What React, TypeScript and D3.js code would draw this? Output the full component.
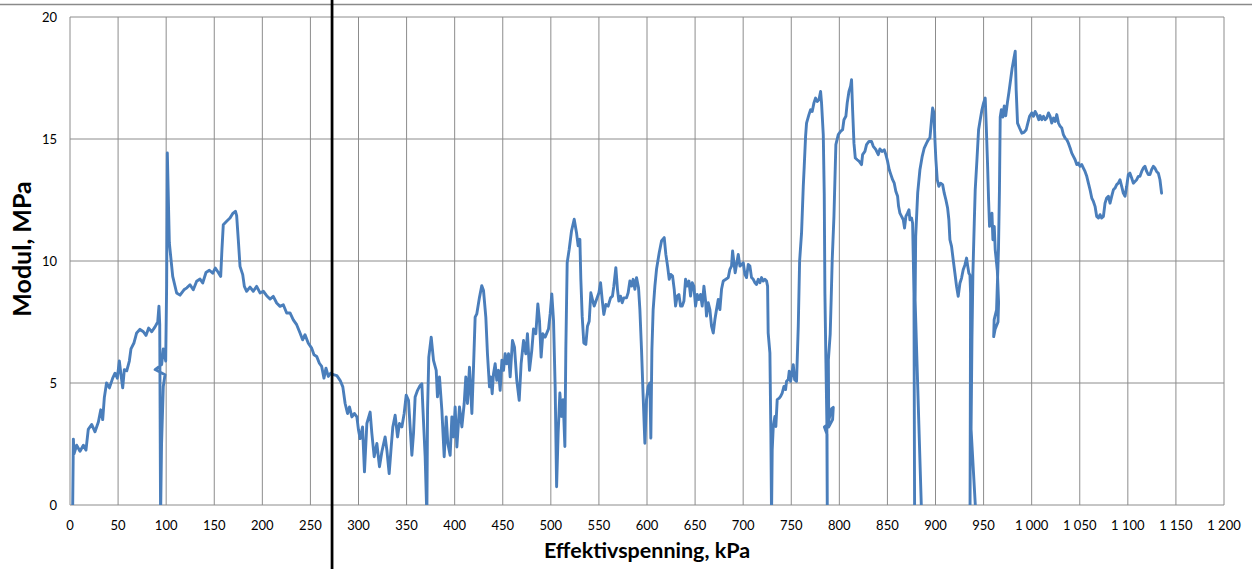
import React from "react";
import * as d3 from "d3";

// ---- Data: effective stress (kPa) vs. modulus (MPa) ----
const segA: [number, number][] = [
  [2.8,0],[3.5,2.7],[4.2,2.1],[6.9,2.45],[10.4,2.2],[13.9,2.45],[16.6,2.25],[19,3.1],[22.5,3.3],[26,3.0],[29.5,3.4],[32,3.9],[34,3.5],[35.7,4.4],[38,5.0],[41,4.8],[44.4,5.2],[46.8,5.4],[49.2,5.2],[51.3,5.9],[53,5.35],[54.8,4.8],[56.5,5.55],[59,5.5],[61.7,5.9],[63.4,6.4],[66.6,6.65],[69.3,7.05],[72.8,7.2],[76.3,7.1],[79,6.95],[81.8,7.25],[85,7.1],[88.4,7.3],[91.2,7.5],[92.5,8.15],[93.3,7.4],[94.2,-0.5],[95.2,2.5],[97,4.86],[98.8,5.34],[88.5,5.55],[95.3,5.75],[97,6.4],[99.5,5.9],[100.5,9],[101.2,14.43],
];
const segB: [number, number][] = [
  [103.3,10.74],[106.8,9.37],[110.9,8.69],[114.4,8.6],[118.5,8.82],[121.5,8.9],[124.8,9.03],[128.2,8.82],[131.7,9.17],[135.2,9.26],[138,9.1],[141.4,9.53],[144.9,9.62],[148.4,9.5],[151.1,9.71],[153.9,9.55],[156.7,9.37],[158,10.47],[159.4,11.49],[162.9,11.63],[166.4,11.76],[169.1,11.94],[172,12.04],[173.3,11.86],[175,10.88],[176.8,9.78],[179.6,9.44],[181.3,8.96],[183.7,8.76],[187.2,8.93],[190.6,8.76],[194.1,8.96],[197.6,8.69],[201,8.76],[204.5,8.58],[208,8.44],[211.4,8.55],[214.9,8.28],[218.4,8.14],[221.8,8.21],[225.3,7.87],[228.8,7.87],[232.2,7.59],[235.7,7.39],[239.2,7.05],[241.9,6.77],[244.4,6.98],[247.8,6.63],[251.3,6.43],[253.7,6.16],[256.5,6.09],[259.3,5.81],[261.7,5.68],[264.1,5.2],[266.2,5.61],[268.6,5.27],[271.1,5.4],[273.8,5.34],
];
const segC: [number, number][] = [
  [277.5,5.3],[281,5.1],[283.7,4.84],[286.1,4.16],[288.6,3.75],[290.6,4.02],[293.1,3.61],[295.8,3.75],[298.3,3.61],[300,3.07],[301.7,2.72],[304.2,3.2],[306.2,1.36],[308.7,3.34],[312.1,3.81],[313.9,2.93],[316.3,1.98],[319.1,2.52],[321.8,1.57],[324.3,2.18],[327.7,2.79],[329.5,2.25],[331.9,1.29],[334,2.38],[335.7,3.2],[338.1,3.68],[340.6,2.79],[342.6,3.34],[345.1,3.2],[347.5,3.75],[349.6,4.5],[352,4.29],[353.7,3.2],[355.5,2.04],[357.2,2.93],[358.9,4.43],[361.4,4.7],[364.1,4.9],[365.9,4.97],[366.9,4.02],[369.3,1.98],[371.1,-0.5],[371.8,3.88],[373.1,6.06],[375.6,6.88],[378,5.93],[380.8,5.52],[382.1,4.43],[384.2,5.25],[386.7,3.88],[389.1,1.98],[391.2,3.61],[392.9,2.52],[395.3,2.04],[397.1,3.61],[398.8,2.79],[400.5,4.02],[402.3,2.38],[405,4.02],[407.5,3.2],[409.9,4.16],[411.6,5.25],[413.3,4.16],[415.4,5.65],[417.9,3.75],[419.6,5.65],[421.3,7.7],[423,7.83],[425.8,8.51],[428.2,8.99],[430,8.79],
];
const segD: [number, number][] = [
  [432.4,7.7],[434.1,6.2],[436.2,4.84],[437.6,5.25],[439,4.56],[440.4,5.38],[442.1,5.79],[443.8,5.11],[445.6,5.52],[447.3,4.7],[449.1,5.93],[450.8,5.52],[452.5,6.2],[454.2,5.79],[456,6.2],[457.7,5.25],[460.1,6.74],[462.2,6.47],[464.6,5.11],[467.1,4.29],[469.1,5.79],[471.6,6.74],[474,6.2],[475.7,7.02],[477.8,5.52],[480.2,6.34],[482,7.22],[484.4,7.02],[486.5,8.24],[488.2,7.56],[489.9,6.06],[491.7,7.02],[494.1,6.88],[497.6,7.22],[499.3,7.83],[501,8.65],[502.8,7.56],[504.5,4.84],[506,0.75],
];
const segE: [number, number][] = [
  [507.6,2.95],[509.4,4.59],[511.1,3.63],[512.8,4.32],[514.6,2.4],[515.6,6.37],[517,9.93],[519.1,10.48],[521.5,11.23],[524.3,11.71],[526.7,11.16],[528.4,10.62],[530.2,10.89],[531.2,9.25],[532.6,7.74],[534.3,6.64],[536.4,6.58],[538.1,7.33],[539.9,7.53],[541.6,8.7],[543.3,8.42],[545.1,8.15],[547.5,8.42],[550,8.7],[551.7,9.11],[553.4,8.42],[555.1,7.81],[557.2,8.22],[559.6,8.15],[562.1,8.49],[564.1,8.56],[565.5,8.97],[567.6,9.73],[569.3,8.84],[570.7,8.36],[572.5,8.56],[574.2,8.29],[575.9,8.49],[578.7,8.49],[580.4,8.7],[582.2,9.18],[583.9,8.97],[585.6,9.25],[587.4,8.84],[589.1,9.32],[591.2,8.9],[592.6,8.01],[594.3,6.37],[596,4.45],[597.8,2.53],[599.5,4.32],[601.2,4.86],[603,5.0],[604,2.74],[605.1,6.37],[606.4,8.01],[608.2,8.97],[609.9,9.66],[612.7,10.34],[615.1,10.82],[617.9,10.96],
];
const segF: [number, number][] = [
  [619.6,10.27],[621.4,9.79],[623.1,9.25],[624.8,9.45],[626.6,9.38],[628.3,8.84],[629.7,8.15],[631.4,8.56],[633.2,8.63],[634.9,8.15],[636.6,8.15],[638.4,8.36],[640.1,9.25],[641.8,8.97],[643.6,9.18],[645.3,8.56],[647,9.11],[648.7,8.97],[650.5,8.15],[652.2,8.63],[653.9,8.42],[655.7,8.63],[657.4,8.15],[659.2,8.97],[660.9,8.36],[661.9,7.74],[663.7,8.29],[665.4,8.01],[667.1,7.33],[668.9,7.05],[670.6,7.6],[672.3,8.01],[674.1,8.42],[675.8,8.01],[677.5,8.84],[679.3,9.18],[682,9.25],[684.5,9.32],[686.2,9.66],[687.9,9.79],[689,10.41],[690.4,9.93],[691.7,9.52],[693.1,9.86],[694.9,10.27],[696.6,9.79],[698.3,9.86],[700.1,9.93],[701.8,9.45],[703.5,9.32],[705.3,9.86],[707,9.79],[708.7,9.32],[710.5,9.25],[712.2,9.11],[713.9,9.04],[715.7,9.25],[717.4,9.11],[719.1,9.32],[720.9,9.18],[722.6,9.25],[724.3,9.18],[725.4,8.97],[726,7.05],[727.8,6.23],[728.8,2.95],[729.5,-0.5],[730.2,2.26],[731.3,3.22],[733,3.63],[734,3.22],[735.4,4.32],[737.5,4.38],[738.9,4.45],[740.6,4.59],[742.4,4.86],[744.1,4.73],[745.1,5.07],[746.9,5.14],[747.9,5.48],[749.3,5.07],[750.7,5.41],[752.1,5.75],[753.5,5.14],[755.5,5.07],[757.3,7.33],[758.7,10.0],
];
const segG: [number, number][] = [
  [760.7,11.14],[762.5,13.06],[763.5,13.88],[764.9,15.11],[765.9,15.65],[768.4,16],[770.1,16.2],[771.8,16.13],[773.6,16.48],[775.3,16.68],[777,16.54],[778.8,16.61],[780.5,16.95],[781.5,16.48],[783.3,15.18],[784.3,12.78],[785,8.68],[786,6.0],[787,3.5],[787.5,-0.5],[787.2,2.9],[784.5,3.2],[788,3.3],[792,3.95],[793.7,4.0],[793,3.5],[789,3.2],[788.6,5.95],[790.5,7.0],[791.5,8.4],[792.6,10.05],[794.4,11.83],[796.4,14.77],[798.9,15.18],[801.3,15.31],[803.4,15.38],[804.8,15.79],[806.8,15.93],[808.2,16.48],[810,16.95],[811.7,17.16],[812.7,17.43],[813.8,16.2],[815.2,14.83],[816.6,14.22],[818.6,14.15],[820.7,14.08],[823.1,13.95],[824.2,14.36],[826.6,14.49],[828.3,14.77],[830.8,14.9],[833.5,14.9],[835.3,14.7],[838,14.56],[840.5,14.36],[842.2,14.59],[844.6,14.49],[846.7,14.56],[848.4,14.36],[850.2,14.08],[851.9,13.74],[853.6,13.54],[855.4,13.33],[857.1,13.19],[858.8,12.85],[860.6,12.65],[861.6,12.24],[863,11.96],[864.7,11.83],[866.5,11.69],[867.8,11.35],[869.2,11.83],[870.9,11.96],[872.4,12.1],[873.4,11.69],[875.1,11.76],[876.2,11.55],[877.6,8.68],[878.3,-0.5],[885.6,-0.5],[878.8,8.4],[879.4,11],[881.5,12.8],[883.8,13.74],[886.2,14.29],[888.3,14.63],[890.7,14.83],[892.5,14.97],[894.2,15.04],[895.9,15.79],[897,16.27],[898.4,16.07],[899.4,14.97],[900.4,14.15],
];
const segH: [number, number][] = [
  [901.8,13.33],[903.5,13.06],[905.3,13.19],[907.4,13.13],[909.1,12.78],[910.8,12.51],[912.6,12.17],[913.9,11.69],[915,10.87],[916.7,10.6],[918.4,10.05],[920.2,9.5],[921.9,8.96],[923.6,8.55],[925.4,9.09],[927.1,9.3],[928.8,9.64],[930.6,9.84],[932.3,10.12],[933.3,9.84],[934.7,9.5],[935.8,9.43],[936.5,8.68],[936.2,4],[935.9,-0.5],[942.1,-0.5],[937,3.1],[937.9,6.77],[938.9,9.5],[940.3,11.55],[941.3,12.92],[943.1,14.15],[944.8,15.38],[946.5,15.79],[948.3,16.2],[950,16.48],[951.7,16.68],[952.8,15.52],[954.2,13.88],[955.2,12.51],[956.2,11.42],[957.6,11.62],[958.7,11.96],[959.7,10.87],[961.1,11.42],[962.1,10.46],[964.3,9.6],[965.6,8.3],[965,7.5],[962,7.2],[960.5,6.9],[961,7.6],[963.5,8.0],[965.5,10.5],[966.5,12.9],[967.3,15.9],[968.5,16.2],[970,15.9],[971.5,16.35],[973,15.95],[974.8,16.5],[976.3,16.9],[978,17.4],[979.7,17.9],[981.5,18.3],[982.9,18.6],[983.9,17.0],[985.3,15.65],[987.4,15.45],[989.8,15.24],[992,15.27],[994.3,15.38],[996,15.65],[997.8,15.93],[1000.2,16.07],
];
const segI: [number, number][] = [
  [1001.9,15.93],[1003.6,16.13],[1005.4,16.0],[1007.4,15.79],[1008.8,15.96],[1010.6,15.79],[1012.3,15.93],[1014,15.79],[1015.7,15.86],[1017.5,16.07],[1019.2,15.93],[1020.9,15.65],[1022.7,15.86],[1024.4,15.72],[1026.1,16.0],[1027.9,15.65],[1029.6,15.52],[1031.3,15.45],[1033,15.18],[1034.8,15.04],[1036.5,14.97],[1038.2,14.83],[1040,14.63],[1041.7,14.42],[1043.4,14.29],[1045.2,14.15],[1046.9,13.95],[1048.6,14.01],[1050.3,13.88],[1052.1,13.95],[1053.8,13.81],[1055.5,13.67],[1057.3,13.47],[1059,13.19],[1060.7,12.92],[1062.5,12.58],[1064.2,12.44],[1065.9,12.24],[1067.6,11.83],[1069.4,11.76],[1071.1,11.9],[1072.8,11.76],[1074.6,11.83],[1076.3,12.37],[1078,12.58],[1079.8,12.65],[1081.5,12.37],[1083.2,12.65],[1085,12.92],[1086.7,12.99],[1088.4,13.13],[1090.1,13.19],[1091.9,13.33],[1093.6,13.06],[1095.3,12.78],[1097.1,12.65],[1098.8,13.06],[1100.5,13.54],[1102.2,13.6],[1104,13.4],[1105.7,13.19],[1107.4,13.26],[1109.2,13.33],[1110.9,13.47],[1112.6,13.47],[1114.4,13.67],[1116.1,13.81],[1117.8,13.88],[1119.6,13.67],[1121.3,13.54],[1123,13.54],[1124.7,13.74],[1126.5,13.88],[1128.2,13.81],[1129.9,13.67],[1131.7,13.6],[1133.4,13.33],[1135.1,12.78],
];

const xTicks = d3.range(0, 1201, 50);
const yTicks = [0, 5, 10, 15, 20];
const markerStress = [272.5];
const xTitle = "Effektivspenning, kPa";
const yTitle = "Modul, MPa";

const W = 1252;
const H = 569;
const fmt = (v: number) => {
  const s = String(v);
  return s.length > 3 ? s.slice(0, s.length - 3) + "\u00a0" + s.slice(-3) : s;
};

export default function App() {
  const x = d3.scaleLinear().domain([0, 1200]).range([70, 1224]);
  const y = d3.scaleLinear().domain([0, 20]).range([505, 17]);
  const data = [...segA, ...segB, ...segC, ...segD, ...segE, ...segF, ...segG, ...segH, ...segI];
  const line = d3
    .line<[number, number]>()
    .x((d) => x(d[0]))
    .y((d) => y(d[1]));
  const grid = "#8c8c8c";
  const font = "Lato, 'Open Sans', sans-serif";
  return (
    <svg
      width={W}
      height={H}
      style={{ position: "absolute", left: 0, top: 0, background: "#fff" }}
    >
      <defs>
        <clipPath id="plot">
          <rect x={70} y={17} width={1154} height={488} />
        </clipPath>
      </defs>
      <line x1={0} x2={W} y1={4.5} y2={4.5} stroke="#8a8a8a" strokeWidth={1.5} />
      {xTicks.map((t) => (
        <line key={"gx" + t} x1={x(t)} x2={x(t)} y1={y(0)} y2={y(20)} stroke={grid} strokeWidth={1} />
      ))}
      {yTicks.map((t) => (
        <line key={"gy" + t} x1={x(0)} x2={x(1200)} y1={y(t)} y2={y(t)} stroke={grid} strokeWidth={1} />
      ))}
      {yTicks.map((t) => (
        <text key={"ty" + t} x={57} y={y(t)} dy="0.35em" textAnchor="end" fontFamily={font} fontSize={13} fill="#000">
          {t}
        </text>
      ))}
      {xTicks.map((t) => (
        <text key={"tx" + t} x={x(t)} y={530} textAnchor="middle" fontFamily={font} fontSize={13} fill="#000">
          {fmt(t)}
        </text>
      ))}
      <path
        d={line(data) || ""}
        fill="none"
        stroke="#4a7ebb"
        strokeWidth={2.9}
        strokeLinejoin="round"
        strokeLinecap="round"
        clipPath="url(#plot)"
      />
      {markerStress.map((m) => (
        <line key={"m" + m} x1={x(m)} x2={x(m)} y1={0} y2={H} stroke="#000" strokeWidth={2.75} />
      ))}
      <text x={647} y={558} textAnchor="middle" fontFamily={font} fontWeight="bold" fontSize={21.5} fill="#000">
        {xTitle}
      </text>
      <text
        transform="translate(31,249) rotate(-90)"
        textAnchor="middle"
        fontFamily={font}
        fontWeight="bold"
        fontSize={25}
        fill="#000"
      >
        {yTitle}
      </text>
    </svg>
  );
}
